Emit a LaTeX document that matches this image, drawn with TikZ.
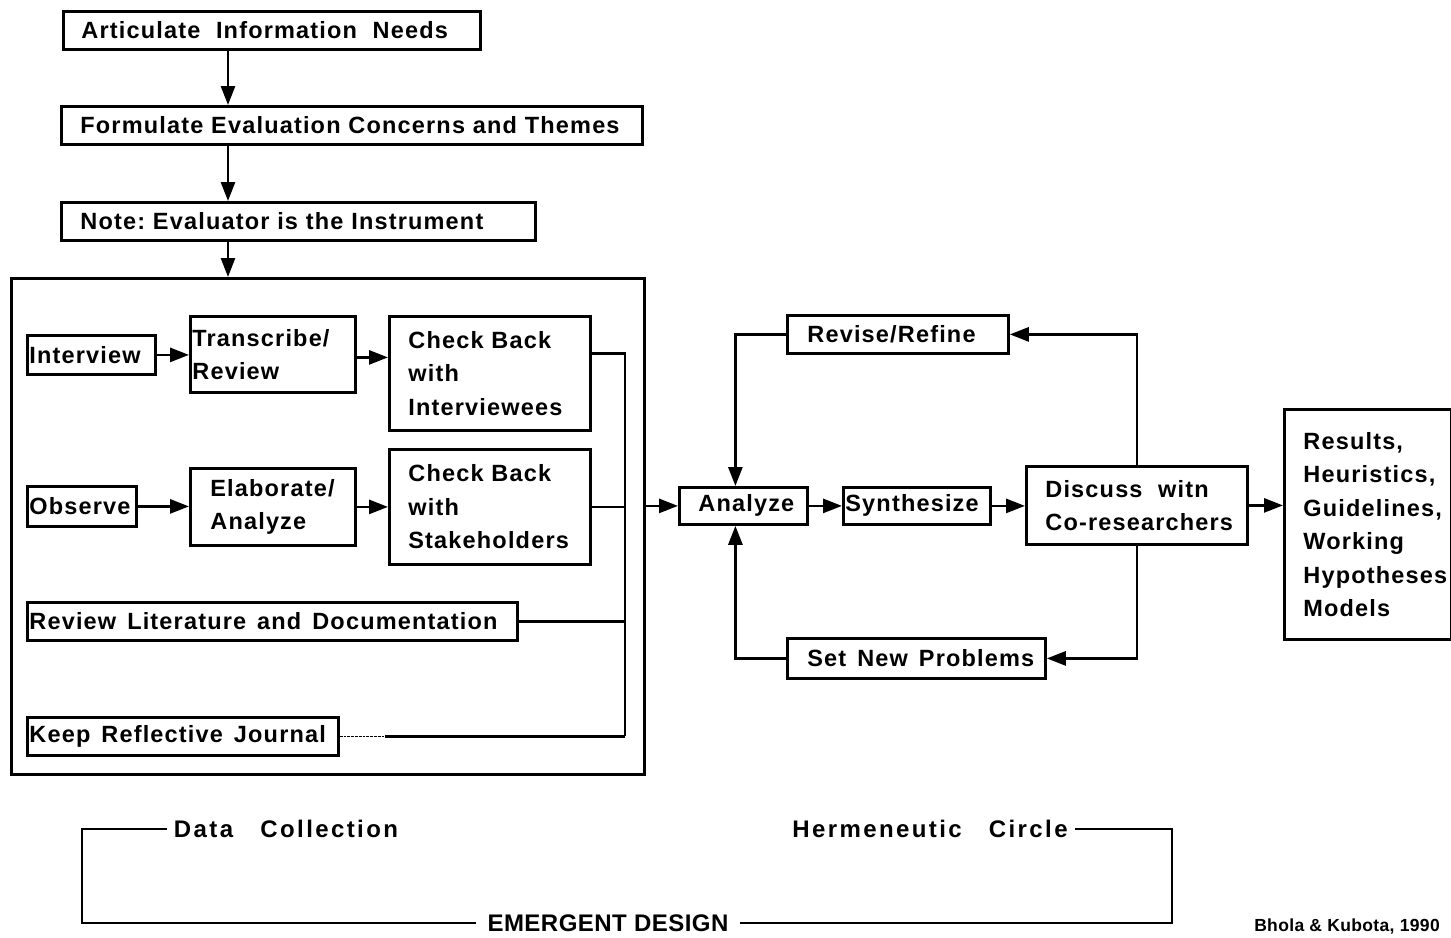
\documentclass[tikz,border=0pt]{standalone}
\usepackage{fontspec}
\setmainfont{Liberation Sans}[LetterSpace=5]
\usetikzlibrary{arrows.meta}
\newcommand\tline[1]{\mbox{#1}}
\newcommand\ws{\hspace{11pt}}
\begin{document}
\begin{tikzpicture}[x=1pt,y=-1pt,
  every path/.style={line width=2.8pt},
  bx/.style={draw, line width=2.8pt, anchor=north west, align=left, inner ysep=0pt,
    font=\fontsize{23.5}{33.5}\selectfont\bfseries},
  lbl/.style={font=\fontsize{24}{28}\selectfont\bfseries\addfontfeature{LetterSpace=10}, inner sep=6pt},
  arr/.style={-{Triangle[length=19pt,width=14pt]}}]
\useasboundingbox (0,0) rectangle (1451,937);

% top chain
\node[bx, minimum width=417pt, minimum height=38pt, inner xsep=18pt, text width=381pt] (art) at (62,10) {\tline{Articulate\ \ Information\ \ Needs}};
\node[bx, minimum width=581pt, minimum height=38pt, inner xsep=19pt, text width=543pt] (frm) at (60,105) {\tline{Formulate Evaluation Concerns and Themes}};
\node[bx, minimum width=474pt, minimum height=38pt, inner xsep=19pt, text width=436pt] (note) at (60,201) {\tline{Note:\ Evaluator\ is\ the\ Instrument}};
\node[draw, line width=2.8pt, anchor=north west, minimum width=633pt, minimum height=496pt, inner sep=0pt] (big) at (10,277) {};

\coordinate (tx) at (228,0);
\draw[arr] (art.south -| tx) -- (frm.north -| tx);
\draw[arr] (frm.south -| tx) -- (note.north -| tx);
\draw[arr] (note.south -| tx) -- (big.north -| tx);

% data collection
\node[bx, minimum width=128pt, minimum height=39pt, inner xsep=2pt, text width=124pt] (int) at (26,334) {\tline{Interview}};
\node[bx, minimum width=165pt, minimum height=76pt, inner xsep=2pt, text width=161pt] (trn) at (189,315) {\tline{Transcribe/}\\\tline{Review}};
\node[bx, minimum width=201pt, minimum height=114pt, inner xsep=19pt, text width=163pt] (cbi) at (388,315) {\tline{Check Back}\\\tline{with}\\\tline{Interviewees}};
\node[bx, minimum width=109pt, minimum height=40pt, inner xsep=2pt, text width=105pt] (obs) at (26,485) {\tline{Observe}};
\node[bx, minimum width=165pt, minimum height=77pt, inner xsep=20pt, text width=125pt] (ela) at (189,467) {\tline{Elaborate/}\\\tline{Analyze}};
\node[bx, minimum width=201pt, minimum height=115pt, inner xsep=19pt, text width=163pt] (cbs) at (388,448) {\tline{Check Back}\\\tline{with}\\\tline{Stakeholders}};
\node[bx, minimum width=490pt, minimum height=38pt, inner xsep=2pt, text width=486pt] (rlit) at (26,601) {\tline{Review\ws Literature\ws and\ws Documentation}};
\node[bx, minimum width=311pt, minimum height=38pt, inner xsep=2pt, text width=307pt] (keep) at (26,716) {\tline{Keep\ws Reflective\ws Journal}};

\draw[arr] (int) -- (trn.west |- int.east);
\draw[arr] ([yshift=-3pt]trn.east) -- ([yshift=-3pt]trn.east -| cbi.west);
\draw[arr] (obs) -- (ela.west |- obs.east);
\draw[arr] (ela.east) -- (ela.east -| cbs.west);

\coordinate (col) at (625,0);
\draw ([yshift=20pt]cbi.east) -- ([yshift=20pt]cbi.east -| col) -- (keep.east -| col);
\draw (cbs.east) -- (cbs.east -| col);
\draw (rlit.east) -- (rlit.east -| col);
\draw[densely dotted, line width=1.8pt] (keep.east) -- ++(45,0) coordinate (kd);
\draw (kd) -- (keep.east -| col);

% hermeneutic circle
\node[bx, minimum width=128pt, minimum height=37pt, inner xsep=19pt, text width=90pt] (ana) at (678,486) {\tline{Analyze}};
\node[bx, minimum width=147pt, minimum height=37pt, inner xsep=2pt, text width=143pt] (syn) at (842,486) {\tline{Synthesize}};
\node[bx, minimum width=221pt, minimum height=78pt, inner xsep=19pt, text width=183pt] (dis) at (1025,465) {\tline{Discuss\ \ witn}\\\tline{Co-researchers}};
\node[bx, minimum width=167pt, minimum height=230pt, inner xsep=19pt, text width=129pt] (res) at (1283,408) {\tline{Results,}\\\tline{Heuristics,}\\\tline{Guidelines,}\\\tline{Working}\\\tline{Hypotheses}\\\tline{Models}};
\node[bx, minimum width=221pt, minimum height=38pt, inner xsep=20pt, text width=181pt] (rev) at (786,314) {\tline{Revise/Refine}};
\node[bx, minimum width=258pt, minimum height=40pt, inner xsep=20pt, text width=218pt] (snp) at (786,637) {\tline{Set\ws New\ws Problems}};

\draw[arr] (ana.west -| big.east) -- (ana.west);
\draw[arr] (ana.east) -- (syn.west);
\draw[arr] (syn.east) -- (syn.east -| dis.west);
\draw[arr] (dis.east) -- (dis.east -| res.west);
\draw[arr] (rev.west) -| ([xshift=-8pt]ana.north);
\draw[arr] (snp.west) -| ([xshift=-8pt]ana.south);
\draw[arr] (dis.north) |- (rev.east);
\draw[arr] (dis.south) |- (snp.east);

% emergent design bracket
\node[lbl] (dc) at (286,829) {Data\ \ \ Collection};
\node[lbl] (hc) at (930,829) {Hermeneutic\ \ \ Circle};
\node[lbl, inner sep=10pt, font=\fontsize{24}{28}\selectfont\bfseries\addfontfeature{LetterSpace=2}] (em) at (608,923) {EMERGENT DESIGN};
\node[font=\fontsize{17.5}{20}\selectfont\bfseries\addfontfeature{LetterSpace=2}, inner sep=0pt] (bk) at (1347,927) {Bhola \& Kubota, 1990};
\coordinate (lb) at (82,0);
\coordinate (rb) at (1172,0);
\draw (dc.west) -- (dc.west -| lb) -- (em.west -| lb) -- (em.west);
\draw (hc.east) -- (hc.east -| rb) -- (em.east -| rb) -- (em.east);
\end{tikzpicture}
\end{document}
